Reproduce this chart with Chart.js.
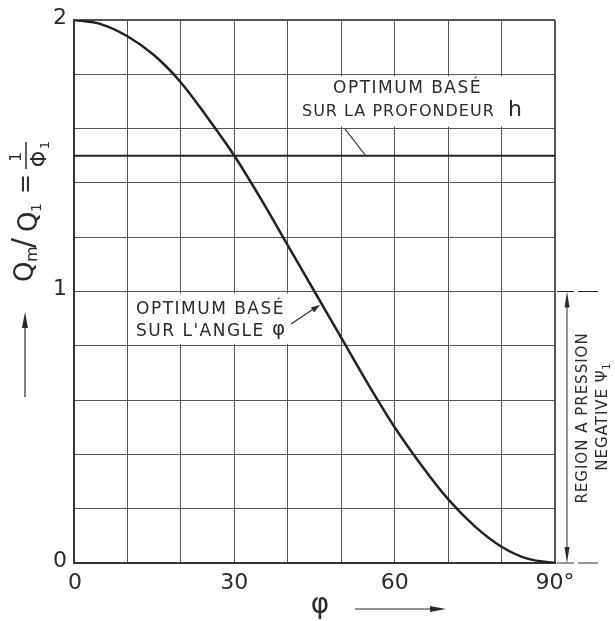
<!DOCTYPE html>
<html>
<head>
<meta charset="utf-8">
<script src="https://cdn.jsdelivr.net/npm/chart.js@4/dist/chart.umd.min.js"></script>
<style>
  html, body { margin: 0; padding: 0; background: #fff; }
  canvas { display: block; }
</style>
</head>
<body>
<canvas id="chart" width="615" height="621"></canvas>
<script>
// angle phi (degrees) and Qm/Q1
const angles = [0, 5, 10, 15, 20, 25, 30, 35, 40, 45, 50, 55, 60, 65, 70, 75, 80, 85, 90];
const ratioCurve = [2.0, 1.985, 1.94, 1.87, 1.77, 1.64, 1.5, 1.34, 1.17, 1.0, 0.83, 0.66, 0.5, 0.36, 0.235, 0.135, 0.06, 0.015, 0.0];

// horizontal optimum (depth h)
const depthAngles = [0, 90];
const depthOptimum = [1.5, 1.5];

const xTickValues = [0, 30, 60, 90];
const xTickTexts = ['0', '30', '60', '90°'];
const yTickValues = [0, 1, 2];
const yTickTexts = ['0', '1', '2'];

const INK = '#2b2b2b';
const FONT = '"DejaVu Sans", sans-serif';

function txt(ctx, s, x, y, size, align) {
    ctx.font = size + 'px ' + FONT;
    ctx.textAlign = align || 'left';
    ctx.textBaseline = 'middle';
    ctx.fillText(s, x, y);
}

function arrowHead(ctx, x, y, ang, len, half) {
    ctx.beginPath();
    ctx.moveTo(x, y);
    ctx.lineTo(x - len * Math.cos(ang) + half * Math.sin(ang), y - len * Math.sin(ang) - half * Math.cos(ang));
    ctx.lineTo(x - len * Math.cos(ang) - half * Math.sin(ang), y - len * Math.sin(ang) + half * Math.cos(ang));
    ctx.closePath();
    ctx.fill();
}

// white boxes + labels inside the plot, under the curves
const notesPlugin = {
    id: 'notes',
    beforeDatasetsDraw(chart) {
        const ctx = chart.ctx;
        const xs = chart.scales.x, ys = chart.scales.y;
        ctx.save();
        ctx.fillStyle = '#fff';
        // top box between 1.6 and 1.8
        const t1 = ys.getPixelForValue(1.8) + 2, t2 = ys.getPixelForValue(1.6) - 2;
        ctx.fillRect(292, t1, 238, t2 - t1);
        // lower box between 0.8 and 1.0
        const b1 = ys.getPixelForValue(1.0) + 2, b2 = ys.getPixelForValue(0.8) - 2;
        ctx.fillRect(xs.getPixelForValue(10) + 2, b1, 172, b2 - b1);

        ctx.fillStyle = INK;
        ctx.letterSpacing = '1.5px';
        txt(ctx, 'OPTIMUM BASÉ', 333, 89, 17);
        ctx.letterSpacing = '1px';
        txt(ctx, 'SUR LA PROFONDEUR', 302, 112, 16);
        txt(ctx, 'h', 508, 110, 22);
        ctx.letterSpacing = '1.5px';
        txt(ctx, 'OPTIMUM BASÉ', 136, 310, 17);
        txt(ctx, 'SUR L\'ANGLE', 136, 332, 17);
        txt(ctx, 'φ', 272, 330, 20);
        ctx.restore();
    },
    afterDraw(chart) {
        const ctx = chart.ctx;
        const xs = chart.scales.x, ys = chart.scales.y;
        ctx.save();
        ctx.strokeStyle = INK;
        ctx.fillStyle = INK;
        ctx.lineWidth = 1.2;

        // leader to the horizontal line
        ctx.beginPath();
        ctx.moveTo(345, 129);
        ctx.lineTo(365, ys.getPixelForValue(1.5) - 1);
        ctx.stroke();
        // leader arrow to the curve
        ctx.beginPath();
        ctx.moveTo(291, 324);
        ctx.lineTo(318, 306);
        ctx.stroke();
        arrowHead(ctx, 320, 305, Math.atan2(-18, 27), 9, 3);

        // tick labels
        ctx.fillStyle = INK;
        xTickValues.forEach((v, i) => {
            txt(ctx, xTickTexts[i], xs.getPixelForValue(v) + (i === 0 ? 1 : 0), 583, 22, 'center');
        });
        yTickValues.forEach((v, i) => {
            txt(ctx, yTickTexts[i], 60, ys.getPixelForValue(v) - 2, 22, 'center');
        });

        // x axis title + arrow
        txt(ctx, 'φ', 320, 606, 28, 'center');
        ctx.beginPath();
        ctx.moveTo(355, 609);
        ctx.lineTo(440, 609);
        ctx.stroke();
        arrowHead(ctx, 446, 609, 0, 16, 3);

        // y axis title (rotated) + arrow
        ctx.save();
        ctx.translate(33, 282);
        ctx.rotate(-Math.PI / 2);
        ctx.textBaseline = 'alphabetic';
        ctx.textAlign = 'left';
        ctx.font = '26px ' + FONT;
        ctx.fillText('Q', 0, 0);
        ctx.font = '16px ' + FONT;
        ctx.fillText('m', 20, 4);
        ctx.font = '30px ' + FONT;
        ctx.fillText('/', 34, 0);
        ctx.font = '26px ' + FONT;
        ctx.fillText('Q', 50, 4);
        ctx.font = '14px ' + FONT;
        ctx.fillText('1', 70, 8);
        ctx.font = '24px ' + FONT;
        ctx.fillText('=', 88, 0);
        ctx.font = '15px ' + FONT;
        ctx.textAlign = 'center';
        ctx.fillText('1', 125, -12);
        ctx.lineWidth = 1.5;
        ctx.beginPath();
        ctx.moveTo(113, -7);
        ctx.lineTo(140, -7);
        ctx.stroke();
        ctx.font = '21px ' + FONT;
        ctx.fillText('Φ', 123, 13);
        ctx.font = '13px ' + FONT;
        ctx.fillText('1', 137, 16);
        ctx.restore();

        ctx.beginPath();
        ctx.moveTo(25, 397);
        ctx.lineTo(25, 322);
        ctx.stroke();
        arrowHead(ctx, 25, 312, -Math.PI / 2, 16, 3);

        // negative pressure region on the right
        const yTop = ys.getPixelForValue(1), yBot = ys.getPixelForValue(0);
        ctx.lineWidth = 1;
        [yTop, yBot].forEach(y => {
            ctx.beginPath();
            ctx.moveTo(557, y); ctx.lineTo(574, y);
            ctx.moveTo(578, y); ctx.lineTo(598, y);
            ctx.stroke();
        });
        ctx.beginPath();
        ctx.moveTo(567, yTop + 10);
        ctx.lineTo(567, yBot - 10);
        ctx.stroke();
        arrowHead(ctx, 567, yTop, -Math.PI / 2, 16, 2.5);
        arrowHead(ctx, 567, yBot, Math.PI / 2, 16, 2.5);

        ctx.save();
        ctx.translate(583, 418);
        ctx.rotate(-Math.PI / 2);
        ctx.letterSpacing = '1px';
        txt(ctx, 'REGION A PRESSION', 0, 0, 15, 'center');
        txt(ctx, 'NEGATIVE Ψ', -2, 20, 15, 'center');
        txt(ctx, '1', 52, 24, 10, 'center');
        ctx.restore();

        ctx.restore();
    }
};

function edgeWidth(ctx) {
    const s = ctx.scale;
    return (ctx.tick.value === s.max || ctx.tick.value === s.min) ? 2 : 1;
}

new Chart(document.getElementById('chart'), {
    type: 'line',
    data: {
        datasets: [{
            data: angles.map((a, i) => ({ x: a, y: ratioCurve[i] })),
            borderColor: '#222',
            borderWidth: 2.5,
            pointRadius: 0,
            cubicInterpolationMode: 'monotone'
        }, {
            data: depthAngles.map((a, i) => ({ x: a, y: depthOptimum[i] })),
            borderColor: '#222',
            borderWidth: 2.2,
            pointRadius: 0
        }]
    },
    options: {
        responsive: false,
        animation: false,
        devicePixelRatio: 1,
        layout: { padding: { left: 74, right: 60, top: 20, bottom: 58 } },
        plugins: { legend: { display: false }, tooltip: { enabled: false } },
        scales: {
            x: {
                type: 'linear', min: 0, max: 90,
                ticks: { stepSize: 10, display: false },
                grid: { color: '#555', lineWidth: edgeWidth, drawTicks: false },
                border: { color: '#333', width: 2 }
            },
            y: {
                min: 0, max: 2,
                ticks: { stepSize: 0.2, display: false },
                grid: { color: '#555', lineWidth: edgeWidth, drawTicks: false },
                border: { color: '#333', width: 2 }
            }
        }
    },
    plugins: [notesPlugin]
});
</script>
</body>
</html>
